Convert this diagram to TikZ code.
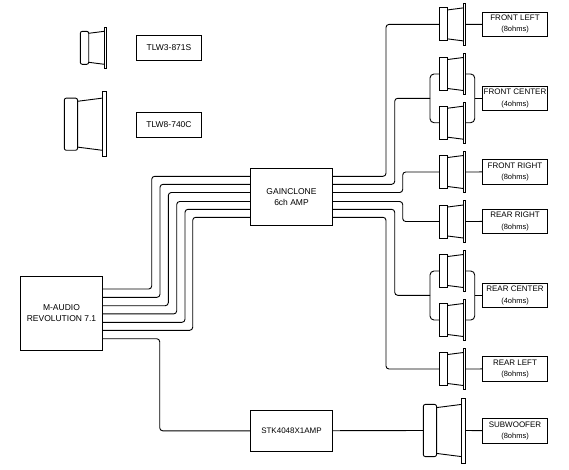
\documentclass[tikz,border=0pt]{standalone}
\usepackage{fontspec}
\setmainfont{Liberation Sans}
\tikzset{
  every path/.style={line width=0.9pt},
  wire/.style={rounded corners=3pt},
  pair/.style={rounded corners=4pt},
  box/.style={draw,inner sep=0pt,align=center,font=\fontsize{8.5}{11}\selectfont},
  label/.style={box,minimum width=65.4pt,minimum height=24.5pt,font=\fontsize{8}{11.5}\selectfont},
  magnet/.style={},
  softmagnet/.style={magnet/.style={rounded corners=2pt}},
  pics/speaker/.style={code={
    \coordinate (-in) at (0,0);
    \coordinate (-out) at (26.4,0);
    \draw[magnet] (0,-16.5) rectangle (8.4,16.5);
    \draw (8.4,-14.5) -- (24,-16.5);
    \draw (8.4,14.5) -- (24,16.5);
    \draw (24,-20.6) rectangle (26.4,20.6);
  }}
}
\newcommand{\ohms}[1]{\\{\fontsize{7.5}{11.5}\selectfont (#1ohms)}}
\begin{document}
\begin{tikzpicture}[x=1pt,y=-1pt]
  \useasboundingbox (0,0) rectangle (569,469);
  % boxes
  \node[box,minimum width=82.4pt,minimum height=74pt] (Revolution) at (61.5,313.3) {M-AUDIO\\REVOLUTION 7.1};
  \node[box,minimum width=82.4pt,minimum height=57pt] (Gainclone) at (291.5,196.8) {GAINCLONE\\6ch AMP};
  \node[box,minimum width=82.4pt,minimum height=41pt,font=\fontsize{8}{11}\selectfont] (Stk) at (291.5,430.8) {STK4048X1AMP};
  \node[box,minimum width=65.4pt,minimum height=25pt] (LegendSmall) at (169,47.8) {TLW3-871S};
  \node[box,minimum width=65.4pt,minimum height=25pt] (LegendBig) at (169,124.8) {TLW8-740C};
  \node[label] (FrontLeft) at (515,24.2) {FRONT LEFT\ohms{8}};
  \node[label] (FrontCenter) at (515,98.3) {FRONT CENTER\ohms{4}};
  \node[label] (FrontRight) at (515,171.8) {FRONT RIGHT\ohms{8}};
  \node[label] (RearRight) at (515,221.3) {REAR RIGHT\ohms{8}};
  \node[label] (RearCenter) at (515,295.3) {REAR CENTER\ohms{4}};
  \node[label] (RearLeft) at (515,368.8) {REAR LEFT\ohms{8}};
  \node[label] (Subwoofer) at (515,430.8) {SUBWOOFER\ohms{8}};
  % speakers
  \pic (SpFrontLeft) at (439.3,24.4) {speaker};
  \pic (SpFrontCenterA) at (439.3,74) {speaker};
  \pic (SpFrontCenterB) at (439.3,122.7) {speaker};
  \pic (SpFrontRight) at (439.3,172) {speaker};
  \pic (SpRearRight) at (439.3,221.5) {speaker};
  \pic (SpRearCenterA) at (439.3,271) {speaker};
  \pic (SpRearCenterB) at (439.3,320) {speaker};
  \pic (SpRearLeft) at (439.3,369) {speaker};
  \pic[scale=1.58,softmagnet] (SpSubwoofer) at (423.3,430.5) {speaker};
  \pic[softmagnet] (SpLegendSmall) at (80.3,47.8) {speaker};
  \pic[scale=1.58,softmagnet] (SpLegendBig) at (64.3,124.2) {speaker};
  % wires from the card to the amp
  \foreach \n/\ya/\yb/\xbus in {1/289/176.3/151.7,2/297.3/184.3/160,3/305.7/192.5/168.3,4/313.9/201.5/176.7,5/322.3/209.3/185,6/330.3/217.3/192.7} {
    \coordinate (RevOut\n) at (Revolution.east |- 0,\ya);
    \coordinate (AmpIn\n) at (Gainclone.west |- 0,\yb);
    \coordinate (AmpOut\n) at (Gainclone.east |- 0,\yb);
    \coordinate (Bus\n) at (\xbus,\yb);
    \draw[wire] (RevOut\n) -| (Bus\n) -- (AmpIn\n);
  }
  % wires from the amp to the speakers
  \coordinate (FrontJoin) at (430,98.3);
  \coordinate (RearJoin) at (430,295.3);
  \foreach \n/\sp/\xbus/\ybus in {1/SpFrontLeft-in/386/100,2/FrontJoin/394.7/140,3/SpFrontRight-in/402.7/182,4/SpRearRight-in/402.7/211,5/RearJoin/394.7/250,6/SpRearLeft-in/386/300} {
    \coordinate (Turn\n) at (\xbus,\ybus);
    \draw[wire] (AmpOut\n) -| (Turn\n) |- (\sp);
  }
  % parallel pairs
  \coordinate (FrontTap) at (474.7,98.3);
  \coordinate (RearTap) at (474.7,295.3);
  \draw[pair] (SpFrontCenterA-in) -| (FrontJoin) |- (SpFrontCenterB-in);
  \draw[pair] (SpRearCenterA-in) -| (RearJoin) |- (SpRearCenterB-in);
  \draw[pair] (SpFrontCenterA-out) -| (FrontTap) |- (SpFrontCenterB-out);
  \draw[pair] (SpRearCenterA-out) -| (RearTap) |- (SpRearCenterB-out);
  \draw (FrontTap) -- (FrontCenter);
  \draw (RearTap) -- (RearCenter);
  % single speakers to their labels
  \foreach \sp/\lb in {SpFrontLeft/FrontLeft,SpFrontRight/FrontRight,SpRearRight/RearRight,SpRearLeft/RearLeft,SpSubwoofer/Subwoofer} {
    \draw (\sp-out) -- (\lb);
  }
  % subwoofer branch
  \coordinate (RevOut7) at (Revolution.east |- 0,338.7);
  \coordinate (StkTurn) at (159.7,400);
  \draw[wire] (RevOut7) -| (StkTurn) |- (Stk);
  \draw (Stk) -- (SpSubwoofer-in);
\end{tikzpicture}
\end{document}
